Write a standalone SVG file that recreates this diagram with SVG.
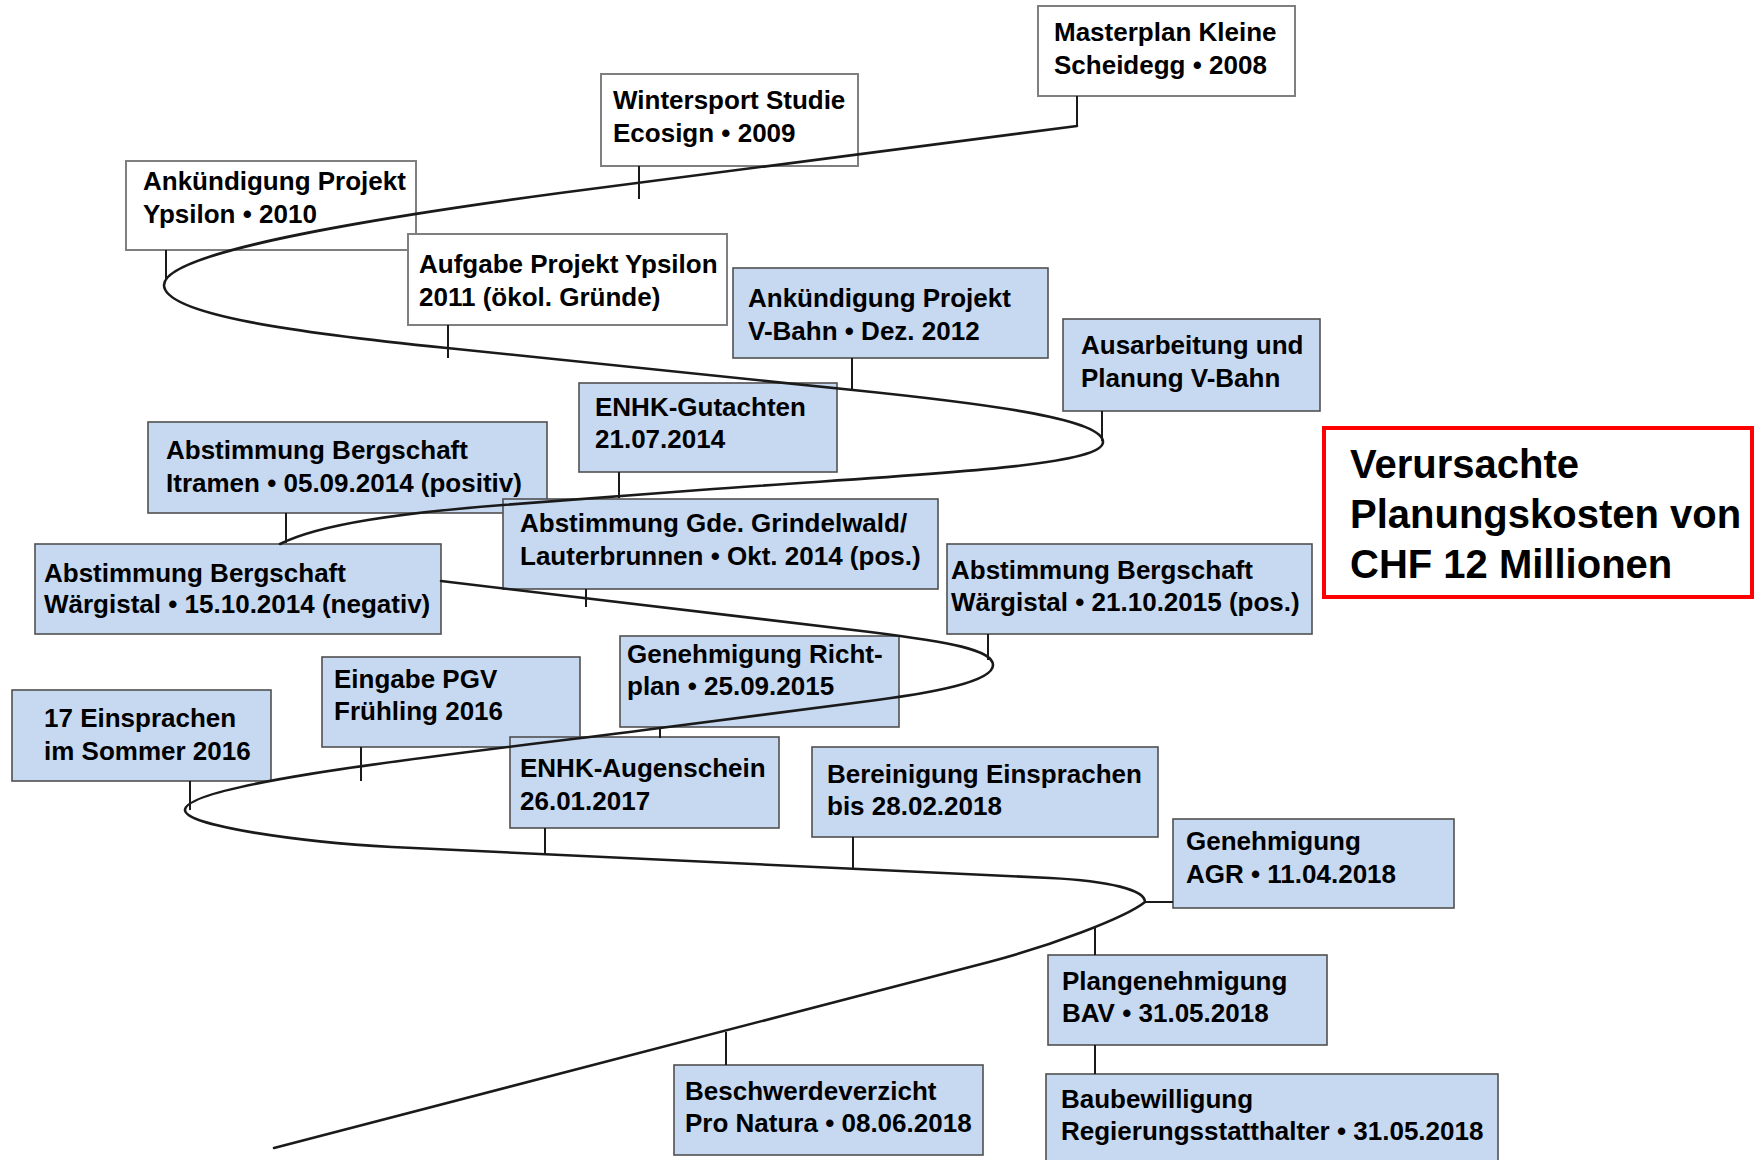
<svg xmlns="http://www.w3.org/2000/svg" width="1754" height="1160" viewBox="0 0 1754 1160">
<style>
.w{fill:#ffffff;stroke:#7f7f7f;stroke-width:2}
.b{fill:#c6d9f1;stroke:#505050;stroke-width:1.6}
.t{font-family:"Liberation Sans",Arial,sans-serif;font-weight:bold;font-size:26px;fill:#000}
.big{font-family:"Liberation Sans",Arial,sans-serif;font-weight:bold;font-size:40px;fill:#000}
.red{fill:#ffffff;stroke:#ff0000;stroke-width:4}
.c{fill:none;stroke:#1a1a1a;stroke-width:2.6;stroke-linecap:round;stroke-linejoin:round}
.k{stroke:#1a1a1a;stroke-width:2}
</style>
<rect width="1754" height="1160" fill="#ffffff"/>

<g id="n-masterplan"><rect class="w" x="1038" y="6" width="257" height="90"/><text class="t"><tspan x="1054" y="41">Masterplan Kleine</tspan><tspan x="1054" y="74">Scheidegg • 2008</tspan></text></g>
<g id="n-wintersport"><rect class="w" x="601" y="74" width="257" height="92"/><text class="t"><tspan x="613" y="109">Wintersport Studie</tspan><tspan x="613" y="142">Ecosign • 2009</tspan></text></g>
<g id="n-ypsilon"><rect class="w" x="126" y="161" width="290" height="89"/><text class="t"><tspan x="143" y="190">Ankündigung Projekt</tspan><tspan x="143" y="223">Ypsilon • 2010</tspan></text></g>
<g id="n-aufgabe"><rect class="w" x="408" y="234" width="319" height="91"/><text class="t"><tspan x="419" y="273">Aufgabe Projekt Ypsilon</tspan><tspan x="419" y="306">2011 (ökol. Gründe)</tspan></text></g>
<g id="n-vbahn"><rect class="b" x="733" y="268" width="315" height="90"/><text class="t"><tspan x="748" y="307">Ankündigung Projekt</tspan><tspan x="748" y="340">V-Bahn • Dez. 2012</tspan></text></g>
<g id="n-ausarbeitung"><rect class="b" x="1063" y="319" width="257" height="92"/><text class="t"><tspan x="1081" y="354">Ausarbeitung und</tspan><tspan x="1081" y="387">Planung V-Bahn</tspan></text></g>
<g id="n-enhk-gutachten"><rect class="b" x="579" y="383" width="258" height="89"/><text class="t"><tspan x="595" y="416">ENHK-Gutachten</tspan><tspan x="595" y="448">21.07.2014</tspan></text></g>
<g id="n-itramen"><rect class="b" x="148" y="422" width="399" height="91"/><text class="t"><tspan x="166" y="459">Abstimmung Bergschaft</tspan><tspan x="166" y="492">Itramen • 05.09.2014 (positiv)</tspan></text></g>
<g id="n-grindelwald"><rect class="b" x="503" y="499" width="435" height="90"/><text class="t"><tspan x="520" y="532">Abstimmung Gde. Grindelwald/</tspan><tspan x="520" y="565">Lauterbrunnen • Okt. 2014 (pos.)</tspan></text></g>
<g id="n-waergistal-2014"><rect class="b" x="35" y="544" width="406" height="90"/><text class="t"><tspan x="44" y="582">Abstimmung Bergschaft</tspan><tspan x="44" y="613">Wärgistal • 15.10.2014 (negativ)</tspan></text></g>
<g id="n-waergistal-2015"><rect class="b" x="947" y="544" width="365" height="90"/><text class="t"><tspan x="951" y="579">Abstimmung Bergschaft</tspan><tspan x="951" y="611">Wärgistal • 21.10.2015 (pos.)</tspan></text></g>
<g id="n-richtplan"><rect class="b" x="620" y="636" width="279" height="91"/><text class="t"><tspan x="627" y="663">Genehmigung Richt-</tspan><tspan x="627" y="695">plan • 25.09.2015</tspan></text></g>
<g id="n-eingabe"><rect class="b" x="322" y="657" width="258" height="90"/><text class="t"><tspan x="334" y="688">Eingabe PGV</tspan><tspan x="334" y="720">Frühling 2016</tspan></text></g>
<g id="n-einsprachen"><rect class="b" x="12" y="690" width="259" height="91"/><text class="t"><tspan x="44" y="727">17 Einsprachen</tspan><tspan x="44" y="760">im Sommer 2016</tspan></text></g>
<g id="n-augenschein"><rect class="b" x="510" y="737" width="269" height="91"/><text class="t"><tspan x="520" y="777">ENHK-Augenschein</tspan><tspan x="520" y="810">26.01.2017</tspan></text></g>
<g id="n-bereinigung"><rect class="b" x="812" y="747" width="346" height="90"/><text class="t"><tspan x="827" y="783">Bereinigung Einsprachen</tspan><tspan x="827" y="815">bis 28.02.2018</tspan></text></g>
<g id="n-agr"><rect class="b" x="1173" y="819" width="281" height="89"/><text class="t"><tspan x="1186" y="850">Genehmigung</tspan><tspan x="1186" y="883">AGR • 11.04.2018</tspan></text></g>
<g id="n-plangenehmigung"><rect class="b" x="1048" y="955" width="279" height="90"/><text class="t"><tspan x="1062" y="990">Plangenehmigung</tspan><tspan x="1062" y="1022">BAV • 31.05.2018</tspan></text></g>
<g id="n-beschwerdeverzicht"><rect class="b" x="674" y="1065" width="309" height="90"/><text class="t"><tspan x="685" y="1100">Beschwerdeverzicht</tspan><tspan x="685" y="1132">Pro Natura • 08.06.2018</tspan></text></g>
<g id="n-baubewilligung"><rect class="b" x="1046" y="1074" width="452" height="100"/><text class="t"><tspan x="1061" y="1108">Baubewilligung</tspan><tspan x="1061" y="1140">Regierungsstatthalter • 31.05.2018</tspan></text></g>
<g id="n-kosten"><rect class="red" x="1324" y="428" width="428" height="169"/><text class="big"><tspan x="1350" y="478">Verursachte</tspan><tspan x="1350" y="528">Planungskosten von</tspan><tspan x="1350" y="578">CHF 12 Millionen</tspan></text></g>

<g id="connectors">
<path class="c" d="M1077,126 L560,193 C330,224 164,255 164,285 C164,315 300,333 447,348 L853,390 C1000,405 1103,420 1103,442 C1103,468 900,475 700,490 L503,505 C400,513 320,524 280,544"/>
<path class="c" d="M441,581 L870,632 C950,642 993,650 993,665 C993,682 930,693 877,700 L660,728 C520,747 185,780 185,810 C185,826 300,842 392,847 L1050,878 C1110,881 1145,890 1145,902 C1125,918 1050,946 989,962 L274,1148"/>
<g id="ticks">
<line class="k" x1="1077" y1="96" x2="1077" y2="126"/>
<line class="k" x1="639" y1="166" x2="639" y2="199"/>
<line class="k" x1="166" y1="250" x2="166" y2="279"/>
<line class="k" x1="448" y1="325" x2="448" y2="358"/>
<line class="k" x1="852" y1="358" x2="852" y2="391"/>
<line class="k" x1="1102" y1="411" x2="1102" y2="441"/>
<line class="k" x1="619" y1="472" x2="619" y2="498"/>
<line class="k" x1="286" y1="513" x2="286" y2="543"/>
<line class="k" x1="586" y1="589" x2="586" y2="607"/>
<line class="k" x1="988" y1="634" x2="988" y2="660"/>
<line class="k" x1="660" y1="727" x2="660" y2="738"/>
<line class="k" x1="361" y1="747" x2="361" y2="781"/>
<line class="k" x1="190" y1="781" x2="190" y2="810"/>
<line class="k" x1="545" y1="828" x2="545" y2="855"/>
<line class="k" x1="853" y1="837" x2="853" y2="868"/>
<line class="k" x1="1145" y1="902" x2="1173" y2="902"/>
<line class="k" x1="1095" y1="926" x2="1095" y2="955"/>
<line class="k" x1="1095" y1="1045" x2="1095" y2="1074"/>
<line class="k" x1="726" y1="1032" x2="726" y2="1065"/>
</g>
</g>
</svg>
